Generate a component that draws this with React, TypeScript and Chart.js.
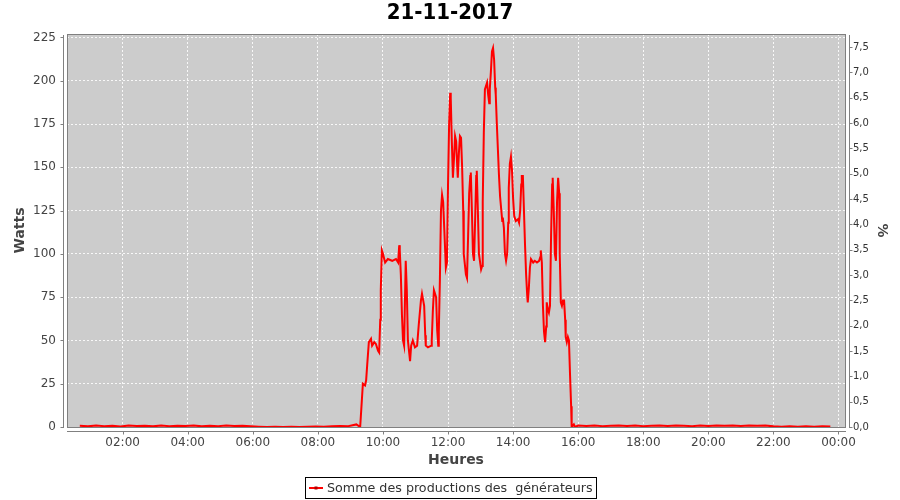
import React, { useEffect, useRef } from "react";
import { Chart, registerables } from "chart.js";

Chart.register(...registerables);

const CHART_TITLE = "21-11-2017";
const SERIES_LABEL = "Somme des productions des  générateurs";
const X_TITLE = "Heures";
const Y_TITLE = "Watts";
const Y2_TITLE = "%";

const X_TICK_HOURS = [2, 4, 6, 8, 10, 12, 14, 16, 18, 20, 22, 24];
const X_TICK_LABELS = ["02:00", "04:00", "06:00", "08:00", "10:00", "12:00", "14:00", "16:00", "18:00", "20:00", "22:00", "00:00"];
const X_MIN_HOURS = 0.29;
const X_MAX_HOURS = 24.2;

const WATT_TICKS = [0, 25, 50, 75, 100, 125, 150, 175, 200, 225];
const WATT_MAX = 227;
const PCT_TICKS = [0, 0.5, 1, 1.5, 2, 2.5, 3, 3.5, 4, 4.5, 5, 5.5, 6, 6.5, 7, 7.5];
const PCT_MAX = 7.76;

const NIGHT_TIMES = [
  "00:41", "00:56", "01:11", "01:26", "01:41", "01:56", "02:11", "02:26", "02:41", "02:56",
  "03:11", "03:26", "03:41", "03:56", "04:11", "04:26", "04:41", "04:56", "05:11", "05:26",
  "05:41", "05:56", "06:11", "06:26", "06:41", "06:56", "07:11", "07:26", "07:41", "07:56",
  "08:11", "08:26", "08:41", "08:56", "09:11",
];
const NIGHT_WATTS = [
  0.7, 0.4, 0.8, 0.5, 0.7, 0.3, 0.8, 0.6, 0.7, 0.4,
  0.8, 0.5, 0.7, 0.6, 0.8, 0.4, 0.7, 0.5, 0.8, 0.6,
  0.7, 0.4, 0.2, 0, 0.1, 0, 0.2, 0, 0.1, 0.3,
  0.2, 0.5, 0.6, 0.5, 1.5,
];

const DAY_TIMES = [
  "09:18", "09:21", "09:23", "09:27", "09:29", "09:31", "09:34", "09:38", "09:40", "09:44",
  "09:47", "09:51", "09:53", "09:55", "09:56", "09:58", "10:00", "10:04", "10:09", "10:17",
  "10:24", "10:28", "10:30", "10:31", "10:33", "10:35", "10:37", "10:39", "10:42", "10:44",
  "10:46", "10:50", "10:52", "10:55", "10:59", "11:03", "11:06", "11:10", "11:12", "11:16",
  "11:18", "11:19", "11:23", "11:29", "11:30", "11:32", "11:34", "11:38", "11:40", "11:42",
  "11:43", "11:45", "11:47", "11:49", "11:51", "11:53", "11:56", "11:58", "12:00", "12:02",
  "12:04", "12:05", "12:07", "12:09", "12:11", "12:13", "12:15", "12:17", "12:18", "12:20",
  "12:22", "12:24", "12:26", "12:28", "12:29", "12:33", "12:35", "12:37", "12:39", "12:41",
  "12:42", "12:44", "12:46", "12:48", "12:50", "12:52", "12:53", "12:55", "12:57", "13:01",
  "13:03", "13:04", "13:06", "13:08", "13:12", "13:14", "13:16", "13:17", "13:19", "13:21",
  "13:23", "13:25", "13:27", "13:28", "13:30", "13:32", "13:34", "13:36", "13:40", "13:41",
  "13:43", "13:45", "13:47", "13:49", "13:51", "13:52", "13:54", "13:56", "13:58", "14:00",
  "14:02", "14:05", "14:09", "14:11", "14:13", "14:15", "14:16", "14:18", "14:20", "14:22",
  "14:24", "14:26", "14:27", "14:29", "14:31", "14:33", "14:37", "14:40", "14:44", "14:48",
  "14:50", "14:51", "14:53", "14:55", "14:57", "14:59", "15:01", "15:02", "15:04", "15:06",
  "15:08", "15:10", "15:12", "15:13", "15:15", "15:17", "15:19", "15:21", "15:23", "15:25",
  "15:26", "15:28", "15:30", "15:32", "15:34", "15:36", "15:37", "15:39", "15:41", "15:43",
  "15:45", "15:47", "15:48", "15:52", "15:54",
];
const DAY_WATTS = [
  0, 15, 25, 24, 27, 36, 49, 51, 47, 49,
  48, 44, 43, 62, 79, 102, 100, 95, 97, 96,
  97, 95, 105, 102, 88, 65, 50, 47, 96, 79,
  50, 38, 47, 50, 46, 47, 59, 73, 77, 70,
  53, 47, 46, 47, 50, 67, 79, 75, 56, 47,
  55, 85, 125, 134, 130, 115, 92, 95, 140, 175,
  193, 190, 165, 144, 155, 168, 165, 150, 144, 158,
  168, 167, 150, 125, 100, 88, 86, 110, 135, 145,
  147, 125, 100, 96, 120, 145, 148, 125, 100, 91,
  93, 130, 170, 195, 199, 192, 187, 195, 205, 217,
  219, 212, 196, 192, 175, 160, 145, 133, 119, 121,
  115, 100, 96, 100, 118, 138, 152, 156, 148, 132,
  122, 119, 120, 118, 125, 140, 145, 145, 125, 105,
  88, 76, 72, 80, 92, 97, 95, 96, 95, 96,
  98, 102, 95, 70, 55, 49, 58, 72, 68, 66,
  70, 110, 140, 144, 125, 100, 96, 130, 144, 135,
  100, 72, 70, 73, 73, 62, 52, 49, 52, 50,
  30, 12, 0, 1.5, 0,
];

const EVENING_TIMES = [
  "16:00", "16:15", "16:30", "16:45", "17:00", "17:15", "17:30", "17:45", "18:00", "18:15",
  "18:30", "18:45", "19:00", "19:15", "19:30", "19:45", "20:00", "20:15", "20:30", "20:45",
  "21:00", "21:15", "21:30", "21:45", "22:00", "22:15", "22:30", "22:45", "23:00", "23:15",
  "23:30", "23:45",
];
const EVENING_WATTS = [
  0.8, 0.6, 0.9, 0.5, 0.7, 0.8, 0.6, 0.9, 0.5, 0.7,
  0.8, 0.6, 0.9, 0.7, 0.5, 0.8, 0.6, 0.9, 0.7, 0.8,
  0.6, 0.9, 0.7, 0.8, 0.4, 0.2, 0.5, 0.2, 0.4, 0.2,
  0.5, 0.3,
];

const FONT = "'DejaVu Sans', sans-serif";

function toHours(t: string): number {
  const [h, m] = t.split(":").map(Number);
  return h + m / 60;
}

const decorPlugin = {
  id: "decor",
  beforeDraw(chart: any) {
    const { ctx, chartArea: a } = chart;
    ctx.save();
    ctx.fillStyle = "#ffffff";
    ctx.fillRect(0, 0, chart.width, chart.height);
    ctx.fillStyle = "#cccccc";
    ctx.fillRect(a.left, a.top, a.right - a.left, a.bottom - a.top);
    ctx.restore();
  },
  afterDraw(chart: any) {
    const { ctx, chartArea: a } = chart;
    ctx.save();
    ctx.lineWidth = 1;
    ctx.strokeStyle = "#808080";
    ctx.strokeRect(a.left + 0.5, a.top + 0.5, a.right - a.left, a.bottom - a.top);
    const lx = a.left - 4 + 0.5;
    const rx = a.right + 4 + 0.5;
    const by = a.bottom + 4 + 0.5;
    ctx.beginPath();
    ctx.moveTo(lx, a.top + 1);
    ctx.lineTo(lx, a.bottom + 1);
    ctx.moveTo(rx, a.top + 1);
    ctx.lineTo(rx, a.bottom + 1);
    ctx.moveTo(a.left, by);
    ctx.lineTo(a.right + 1, by);
    for (const t of chart.scales.y.ticks) {
      const py = Math.round(chart.scales.y.getPixelForValue(t.value)) + 0.5;
      ctx.moveTo(lx - 3, py);
      ctx.lineTo(lx, py);
    }
    for (const t of chart.scales.y2.ticks) {
      const py = Math.round(chart.scales.y2.getPixelForValue(t.value)) + 0.5;
      ctx.moveTo(rx, py);
      ctx.lineTo(rx + 3, py);
    }
    for (const t of chart.scales.x.ticks) {
      const px = Math.round(chart.scales.x.getPixelForValue(t.value)) + 0.5;
      ctx.moveTo(px, by);
      ctx.lineTo(px, by + 3);
    }
    ctx.stroke();

    const ds = chart.data.datasets[0];
    ctx.font = `12.7px ${FONT}`;
    const tw = ctx.measureText(ds.label).width;
    const w = Math.round(4 + 14 + 4 + tw + 3);
    const h = 21;
    const x0 = Math.round((chart.width - w) / 2) + 0.5;
    const y0 = chart.height - 23 + 0.5;
    ctx.strokeStyle = "#000000";
    ctx.lineWidth = 1;
    ctx.strokeRect(x0, y0, w, h);
    const cy = Math.round(y0 + h / 2);
    ctx.strokeStyle = ds.borderColor;
    ctx.lineWidth = 2;
    ctx.beginPath();
    ctx.moveTo(x0 + 3.5, cy);
    ctx.lineTo(x0 + 17.5, cy);
    ctx.stroke();
    ctx.fillStyle = "#b00000";
    ctx.fillRect(x0 + 9, cy - 1.5, 3, 3);
    ctx.fillStyle = "#333333";
    ctx.textBaseline = "middle";
    ctx.textAlign = "left";
    ctx.fillText(ds.label, x0 + 21.5, cy + 0.5);
    ctx.restore();
  },
};

export default function App() {
  const canvasRef = useRef<HTMLCanvasElement | null>(null);

  useEffect(() => {
    const canvas = canvasRef.current;
    if (!canvas) return;
    const times = [...NIGHT_TIMES, ...DAY_TIMES, ...EVENING_TIMES];
    const watts = [...NIGHT_WATTS, ...DAY_WATTS, ...EVENING_WATTS];
    const points = times.map((t, i) => ({ x: toHours(t), y: watts[i] }));

    const chart = new Chart(canvas, {
      type: "line",
      data: {
        datasets: [
          {
            label: SERIES_LABEL,
            data: points,
            borderColor: "#ff0000",
            backgroundColor: "#ff0000",
            borderWidth: 2,
            pointRadius: 0,
            tension: 0,
            fill: false,
            xAxisID: "x",
            yAxisID: "y",
          },
        ],
      },
      options: {
        animation: false,
        responsive: false,
        devicePixelRatio: 1,
        layout: { padding: 0 },
        plugins: {
          legend: { display: false },
          tooltip: { enabled: false },
          title: {
            display: true,
            text: CHART_TITLE,
            color: "#000000",
            font: { family: "'DejaVu Sans Condensed', 'DejaVu Sans', sans-serif", size: 22, weight: "bold", lineHeight: 1.2 },
            padding: { top: 0, bottom: 7.6 },
          },
        },
        scales: {
          x: {
            type: "linear",
            position: "bottom",
            min: X_MIN_HOURS,
            max: X_MAX_HOURS,
            afterBuildTicks: (s: any) => {
              s.ticks = X_TICK_HOURS.map((v) => ({ value: v }));
            },
            afterFit: (s: any) => {
              s.height = 73;
            },
            ticks: {
              autoSkip: false,
              maxRotation: 0,
              padding: 2,
              color: "#444444",
              font: { family: FONT, size: 12 },
              callback: (v: any) => X_TICK_LABELS[X_TICK_HOURS.indexOf(Number(v))],
            },
            grid: { color: "rgba(255,255,255,0.85)", lineWidth: 1, drawTicks: true, tickLength: 7, tickColor: "rgba(0,0,0,0)" },
            border: { display: false, dash: [2, 2] },
            title: {
              display: true,
              text: X_TITLE,
              color: "#444444",
              font: { family: FONT, size: 14, weight: "bold", lineHeight: 1.2 },
              padding: { top: 0, bottom: 31.6 },
            },
          },
          y: {
            type: "linear",
            position: "left",
            min: 0,
            max: WATT_MAX,
            afterBuildTicks: (s: any) => {
              s.ticks = WATT_TICKS.map((v) => ({ value: v }));
            },
            afterFit: (s: any) => {
              s.width = 67;
            },
            ticks: {
              padding: 3,
              color: "#444444",
              font: { family: FONT, size: 12 },
              callback: (v: any) => String(v),
            },
            grid: { color: "rgba(255,255,255,0.85)", lineWidth: 1, drawTicks: true, tickLength: 8, tickColor: "rgba(0,0,0,0)" },
            border: { display: false, dash: [2, 2] },
            title: {
              display: true,
              text: Y_TITLE,
              color: "#444444",
              font: { family: FONT, size: 14, weight: "bold", lineHeight: 1.2 },
              padding: { top: 11.6, bottom: 0 },
            },
          },
          y2: {
            type: "linear",
            position: "right",
            display: true,
            min: 0,
            max: PCT_MAX,
            afterBuildTicks: (s: any) => {
              s.ticks = PCT_TICKS.map((v) => ({ value: v }));
            },
            afterFit: (s: any) => {
              s.width = 55;
            },
            ticks: {
              padding: 2,
              color: "#333333",
              font: { family: FONT, size: 10 },
              callback: (v: any) => Number(v).toFixed(1).replace(".", ","),
            },
            grid: { drawOnChartArea: false, drawTicks: true, tickLength: 6, tickColor: "rgba(0,0,0,0)" },
            border: { display: false },
            title: {
              display: true,
              text: Y2_TITLE,
              color: "#444444",
              font: { family: FONT, size: 14, weight: "bold", lineHeight: 1.2 },
              padding: { top: 9.6, bottom: 0 },
            },
          },
        },
      },
      plugins: [decorPlugin],
    } as any);

    return () => chart.destroy();
  }, []);

  return (
    <div style={{ position: "fixed", left: 0, top: 0, width: 900, height: 500, background: "#ffffff" }}>
      <canvas ref={canvasRef} width={900} height={500} style={{ width: 900, height: 500, display: "block" }} />
    </div>
  );
}
